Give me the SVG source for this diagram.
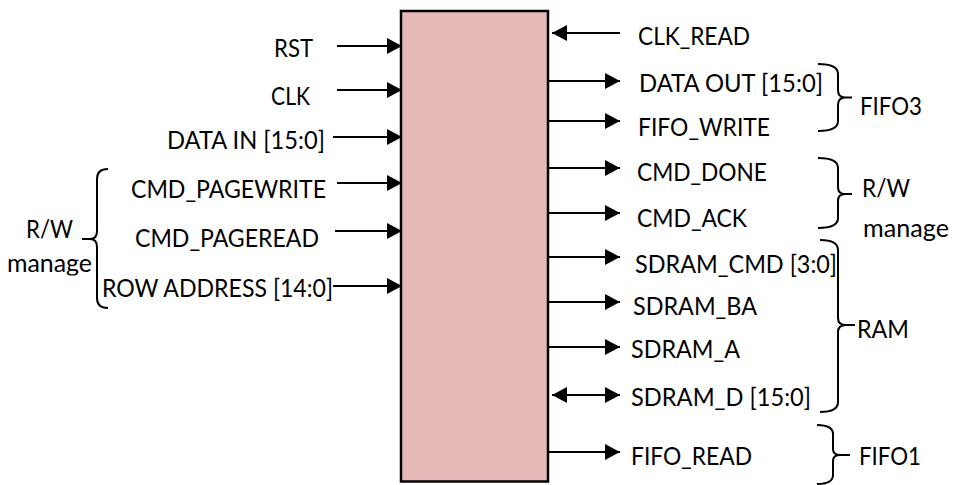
<svg xmlns="http://www.w3.org/2000/svg" width="956" height="485" viewBox="0 0 956 485">
<style>
text{font-family:Lato,"Liberation Sans",Arial,sans-serif;font-size:25px;fill:#000}
.end{text-anchor:end}
.w{stroke:#000;stroke-width:2;fill:none}
.br{stroke:#000;stroke-width:2;fill:none;stroke-linecap:butt}
</style>
<defs>
<marker id="ah" markerUnits="userSpaceOnUse" markerWidth="18" markerHeight="18" refX="15" refY="8" orient="auto-start-reverse" viewBox="0 0 18 18">
<path d="M0,0 L15,8 L0,16 z" fill="#000"/>
</marker>
<clipPath id="clipL"><rect x="0" y="200" width="120" height="75.5"/></clipPath>
</defs>
<rect width="956" height="485" fill="#fff"/>

<g id="block">
<rect x="401" y="11" width="147" height="470.5" fill="#E6B8B7" stroke="#000" stroke-width="2.5"/>
</g>

<g id="connectors">
<line class="w" x1="337" y1="46" x2="402" y2="46" marker-end="url(#ah)"/>
<line class="w" x1="337" y1="90" x2="402" y2="90" marker-end="url(#ah)"/>
<line class="w" x1="333" y1="137" x2="402" y2="137" marker-end="url(#ah)"/>
<line class="w" x1="337" y1="183" x2="402" y2="183" marker-end="url(#ah)"/>
<line class="w" x1="335" y1="231" x2="402" y2="231" marker-end="url(#ah)"/>
<line class="w" x1="333" y1="286" x2="402" y2="286" marker-end="url(#ah)"/>

<line class="w" x1="620" y1="33" x2="552" y2="33" marker-end="url(#ah)"/>
<line class="w" x1="549" y1="81" x2="620" y2="81" marker-end="url(#ah)"/>
<line class="w" x1="549" y1="121" x2="620" y2="121" marker-end="url(#ah)"/>
<line class="w" x1="549" y1="168" x2="620" y2="168" marker-end="url(#ah)"/>
<line class="w" x1="549" y1="213" x2="620" y2="213" marker-end="url(#ah)"/>
<line class="w" x1="549" y1="257" x2="620" y2="257" marker-end="url(#ah)"/>
<line class="w" x1="549" y1="302" x2="620" y2="302" marker-end="url(#ah)"/>
<line class="w" x1="549" y1="347" x2="620" y2="347" marker-end="url(#ah)"/>
<line class="w" x1="552" y1="395" x2="620" y2="395" marker-start="url(#ah)" marker-end="url(#ah)"/>
<line class="w" x1="549" y1="452" x2="620" y2="452" marker-end="url(#ah)"/>
</g>

<g id="braces">
<path class="br" d="M108,169 Q97,169 97,179 L97,231 Q97,239 90,239 L82,239 M90,239 Q97,239 97,247 L97,298 Q97,308 108,308"/>
<path class="br" d="M818,64 Q838,64 838,74 L838,90 Q838,97.5 845,97.5 L852,97.5 M845,97.5 Q838,97.5 838,105 L838,121 Q838,131 818,131"/>
<path class="br" d="M818,158 Q838,158 838,168 L838,187 Q838,194 845,194 L852,194 M845,194 Q838,194 838,201 L838,218 Q838,228 818,228"/>
<path class="br" d="M820,240 Q838,240 838,250 L838,318 Q838,325 846,325 L855,325 M846,325 Q838,325 838,332 L838,402 Q838,412 820,412"/>
<path class="br" d="M817,425 Q833,425 833,434 L833,449 Q833,455 840,455 L850,455 M840,455 Q833,455 833,461 L833,475 Q833,484 817,484"/>
</g>

<g id="labels-left">
<text class="end" x="313" y="57" textLength="39" lengthAdjust="spacingAndGlyphs">RST</text>
<text class="end" x="310" y="105" textLength="39" lengthAdjust="spacingAndGlyphs">CLK</text>
<text class="end" x="325" y="149" textLength="158" lengthAdjust="spacingAndGlyphs">DATA IN [15:0]</text>
<text class="end" x="326" y="198" textLength="195" lengthAdjust="spacingAndGlyphs">CMD_PAGEWRITE</text>
<text class="end" x="319" y="247" textLength="184" lengthAdjust="spacingAndGlyphs">CMD_PAGEREAD</text>
<text class="end" x="333" y="297" textLength="231" lengthAdjust="spacingAndGlyphs">ROW ADDRESS [14:0]</text>
<text x="26" y="238" textLength="47" lengthAdjust="spacingAndGlyphs">R/W</text>
<g clip-path="url(#clipL)"><text x="7" y="272" textLength="85" lengthAdjust="spacingAndGlyphs">manage</text></g>
</g>

<g id="labels-right">
<text x="638" y="45" textLength="112" lengthAdjust="spacingAndGlyphs">CLK_READ</text>
<text x="639" y="92" textLength="184" lengthAdjust="spacingAndGlyphs">DATA OUT [15:0]</text>
<text x="638" y="136" textLength="132" lengthAdjust="spacingAndGlyphs">FIFO_WRITE</text>
<text x="637" y="181" textLength="130" lengthAdjust="spacingAndGlyphs">CMD_DONE</text>
<text x="637" y="227" textLength="110" lengthAdjust="spacingAndGlyphs">CMD_ACK</text>
<text x="635" y="273" textLength="202" lengthAdjust="spacingAndGlyphs">SDRAM_CMD [3:0]</text>
<text x="633" y="315" textLength="124" lengthAdjust="spacingAndGlyphs">SDRAM_BA</text>
<text x="631" y="358" textLength="109" lengthAdjust="spacingAndGlyphs">SDRAM_A</text>
<text x="631" y="406" textLength="180" lengthAdjust="spacingAndGlyphs">SDRAM_D [15:0]</text>
<text x="631" y="465" textLength="121" lengthAdjust="spacingAndGlyphs">FIFO_READ</text>
<text x="860" y="115" textLength="62" lengthAdjust="spacingAndGlyphs">FIFO3</text>
<text x="862" y="197" textLength="48" lengthAdjust="spacingAndGlyphs">R/W</text>
<text x="863" y="237" textLength="86" lengthAdjust="spacingAndGlyphs">manage</text>
<text x="857" y="338" textLength="52" lengthAdjust="spacingAndGlyphs">RAM</text>
<text x="859" y="465" textLength="62" lengthAdjust="spacingAndGlyphs">FIFO1</text>
</g>
</svg>
